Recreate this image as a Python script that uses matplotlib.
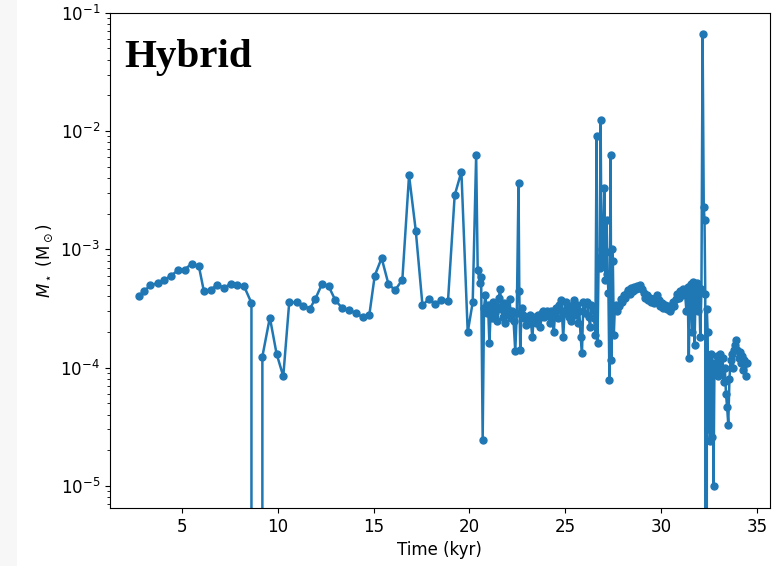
import matplotlib
matplotlib.use("Agg")
import matplotlib.pyplot as plt
from matplotlib.patches import Rectangle

# ---- data ----
time_early = [2.75, 3.01, 3.36, 3.74, 4.06, 4.44, 4.79, 5.14, 5.51, 5.89,
              6.15, 6.50, 6.85, 7.20, 7.55, 7.90, 8.25, 8.63, 8.92,
              9.20, 9.59, 9.94, 10.29, 10.60, 10.98, 11.33, 11.68, 11.96,
              12.31, 12.66, 13.01, 13.36, 13.71, 14.06, 14.44, 14.78,
              15.06, 15.42, 15.77, 16.12, 16.50, 16.85, 17.20, 17.55,
              17.90, 18.21, 18.53, 18.88, 19.23, 19.58, 19.91, 20.17,
              20.35, 20.43, 20.55, 20.61]
mass_early = [4.0e-4, 4.41e-4, 4.95e-4, 5.19e-4, 5.46e-4, 5.98e-4, 6.64e-4,
              6.73e-4, 7.56e-4, 7.17e-4, 4.41e-4, 4.55e-4, 5.02e-4, 4.71e-4,
              5.12e-4, 5.02e-4, 4.85e-4, 3.52e-4, 0.0,
              1.24e-4, 2.65e-4, 1.31e-4, 8.43e-5, 3.56e-4, 3.56e-4, 3.33e-4,
              3.15e-4, 3.80e-4, 5.09e-4, 4.85e-4, 3.70e-4, 3.19e-4, 3.04e-4,
              2.90e-4, 2.66e-4, 2.80e-4, 5.98e-4, 8.43e-4, 5.12e-4, 4.50e-4,
              5.53e-4, 4.22e-3, 1.44e-3, 3.36e-4, 3.82e-4, 3.42e-4, 3.75e-4,
              3.63e-4, 2.86e-3, 4.53e-3, 1.99e-4, 3.56e-4, 6.3e-3, 6.73e-4,
              5.2e-4, 5.84e-4]

time_mid = [20.69, 20.76, 20.83, 20.90, 20.97, 21.04, 21.11, 21.18, 21.25,
            21.32, 21.39, 21.46, 21.53, 21.60, 21.67, 21.74, 21.81, 21.88,
            21.95, 22.02, 22.09, 22.16, 22.23, 22.30, 22.39, 22.47, 22.56,
            22.60, 22.65, 22.72, 22.79, 22.86, 22.93, 23.00, 23.07, 23.14,
            23.21, 23.28, 23.35, 23.42, 23.49, 23.56, 23.63, 23.70, 23.77,
            23.84, 23.91, 23.98, 24.05, 24.12, 24.19, 24.26, 24.33, 24.40,
            24.47, 24.54, 24.61, 24.68, 24.75, 24.82, 24.89, 24.96, 25.03,
            25.10, 25.17, 25.24, 25.31, 25.38, 25.45, 25.52, 25.59, 25.66,
            25.73, 25.80, 25.87, 25.94, 26.01, 26.08, 26.15, 26.22, 26.29,
            26.36, 26.43, 26.50, 26.57]
mass_mid = [2.46e-5, 3.2e-4, 4.1e-4, 2.9e-4, 3.4e-4, 1.6e-4, 3.0e-4, 2.6e-4,
            3.6e-4, 2.9e-4, 3.3e-4, 2.5e-4, 3.9e-4, 4.6e-4, 3.1e-4, 2.7e-4,
            3.5e-4, 2.4e-4, 3.2e-4, 2.8e-4, 3.8e-4, 2.6e-4, 3.0e-4, 2.5e-4,
            1.37e-4, 2.9e-4, 3.66e-3, 4.4e-4, 1.4e-4, 3.2e-4, 2.8e-4, 2.6e-4,
            2.3e-4, 2.7e-4, 2.5e-4, 2.8e-4, 2.4e-4, 1.8e-4, 2.6e-4, 2.7e-4,
            2.4e-4, 2.8e-4, 2.6e-4, 2.2e-4, 2.9e-4, 3.0e-4, 2.7e-4, 2.9e-4,
            3.0e-4, 2.8e-4, 2.4e-4, 3.0e-4, 2.7e-4, 2.0e-4, 2.9e-4, 3.2e-4,
            2.6e-4, 3.4e-4, 3.7e-4, 3.0e-4, 1.8e-4, 2.9e-4, 3.6e-4, 3.2e-4,
            2.7e-4, 3.3e-4, 2.5e-4, 3.0e-4, 3.7e-4, 2.8e-4, 3.4e-4, 2.4e-4,
            3.0e-4, 1.8e-4, 1.34e-4, 3.6e-4, 2.9e-4, 3.5e-4, 3.6e-4, 2.7e-4,
            2.2e-4, 3.4e-4, 3.1e-4, 2.6e-4, 1.9e-4]

time_burst = [26.63, 26.68, 26.74, 26.79, 26.84, 26.89, 26.94, 26.99, 27.04,
              27.09, 27.12, 27.15, 27.20, 27.25, 27.30, 27.36, 27.40, 27.44,
              27.48, 27.53, 27.58, 27.65, 27.72]
mass_burst = [9.0e-3, 1.6e-4, 8.5e-4, 7.0e-4, 1.23e-2, 1.0e-3, 7.5e-4, 1.5e-3,
              3.3e-3, 5.5e-4, 9.5e-4, 1.78e-3, 6.2e-4, 4.3e-4, 7.9e-5, 6.3e-3,
              1.17e-4, 1.0e-3, 7.9e-4, 1.9e-4, 3.1e-4, 3.4e-4, 3.0e-4]

time_late = [27.80, 27.88, 27.96, 28.04, 28.12, 28.20, 28.28, 28.36, 28.44,
             28.52, 28.60, 28.68, 28.76, 28.84, 28.92, 29.00, 29.08, 29.16,
             29.24, 29.32, 29.40, 29.48, 29.56, 29.64, 29.72, 29.80, 29.88,
             29.96, 30.04, 30.12, 30.20, 30.28, 30.36, 30.44, 30.52, 30.60,
             30.68, 30.76, 30.84, 30.92, 31.00, 31.08, 31.16, 31.24, 31.32,
             31.38, 31.44, 31.50, 31.56, 31.62, 31.68, 31.74, 31.80, 31.86,
             31.92, 31.98, 32.04, 32.10]
mass_late = [3.3e-4, 3.8e-4, 3.6e-4, 4.1e-4, 3.9e-4, 4.3e-4, 4.5e-4, 4.2e-4,
             4.7e-4, 4.4e-4, 4.8e-4, 4.6e-4, 4.9e-4, 4.7e-4, 5.0e-4, 4.6e-4,
             4.3e-4, 3.9e-4, 4.1e-4, 3.7e-4, 3.9e-4, 3.6e-4, 3.8e-4, 3.5e-4,
             3.9e-4, 4.1e-4, 3.7e-4, 3.3e-4, 3.5e-4, 3.2e-4, 3.4e-4, 3.1e-4,
             3.3e-4, 3.0e-4, 3.2e-4, 3.6e-4, 3.3e-4, 3.8e-4, 4.2e-4, 3.9e-4,
             4.4e-4, 4.1e-4, 4.6e-4, 4.3e-4, 3.0e-4, 4.8e-4, 1.2e-4, 4.5e-4,
             5.1e-4, 2.0e-4, 5.3e-4, 1.55e-4, 4.9e-4, 5.2e-4, 3.0e-4, 4.7e-4,
             1.8e-4, 4.6e-4]

time_end = [32.16, 32.22, 32.26, 32.30, 32.34, 32.38, 32.42, 32.46, 32.50,
            32.54, 32.58, 32.62, 32.66, 32.70, 32.73, 32.78, 32.84, 32.90,
            32.96, 33.02, 33.08, 33.14, 33.20, 33.26, 33.32, 33.38, 33.44,
            33.50, 33.56, 33.62, 33.68, 33.74, 33.80, 33.86, 33.92, 33.98,
            34.04, 34.10, 34.16, 34.22, 34.28, 34.34, 34.40, 34.46]
mass_end = [6.6e-2, 2.3e-3, 1.78e-3, 4.2e-4, 0.0, 3.1e-4, 2.0e-4, 3.0e-5,
            1.2e-4, 2.4e-5, 9.0e-5, 1.3e-4, 2.6e-5, 1.0e-4, 1.0e-5, 1.1e-4,
            9.5e-5, 1.25e-4, 8.5e-5, 1.1e-4, 1.3e-4, 9.0e-5, 1.2e-4, 7.5e-5,
            1.0e-4, 6.0e-5, 4.6e-5, 3.3e-5, 8.0e-5, 1.15e-4, 1.3e-4, 1.0e-4,
            1.4e-4, 1.55e-4, 1.7e-4, 1.4e-4, 1.2e-4, 1.35e-4, 1.1e-4, 1.25e-4,
            9.5e-5, 1.15e-4, 8.5e-5, 1.1e-4]

time = time_early + time_mid + time_burst + time_late + time_end
mass = mass_early + mass_mid + mass_burst + mass_late + mass_end

x_ticks = [5, 10, 15, 20, 25, 30, 35]
x_limits = (1.24, 35.67)
y_limits = (6.5e-6, 1e-1)

# ---- figure ----
fig = plt.figure(figsize=(7.84, 5.66), dpi=100, facecolor="white")
# light grey screenshot margin on the left edge
fig.patches.append(Rectangle((0, 0), 17 / 784, 1, transform=fig.transFigure,
                             facecolor="#f7f7f7", edgecolor="none", zorder=-1))
ax = fig.add_axes([0.140, 0.1025, 0.842, 0.875])

ax.plot(time, mass, "-o", color="#1f77b4", lw=1.8, ms=5)
ax.set_yscale("log")
ax.set_xlim(*x_limits)
ax.set_ylim(*y_limits)
ax.set_xticks(x_ticks)
ax.tick_params(labelsize=12)
ax.set_xlabel("Time (kyr)", fontsize=12)
ax.set_ylabel(r"$M_\star$ (M$_\odot$)", fontsize=12)

ax.text(0.0227, 0.891, "Hybrid", transform=ax.transAxes, fontsize=29.5,
        fontweight="bold", family="Liberation Serif", va="baseline",
        ha="left")

fig.savefig("out.png", dpi=100, facecolor="white")
